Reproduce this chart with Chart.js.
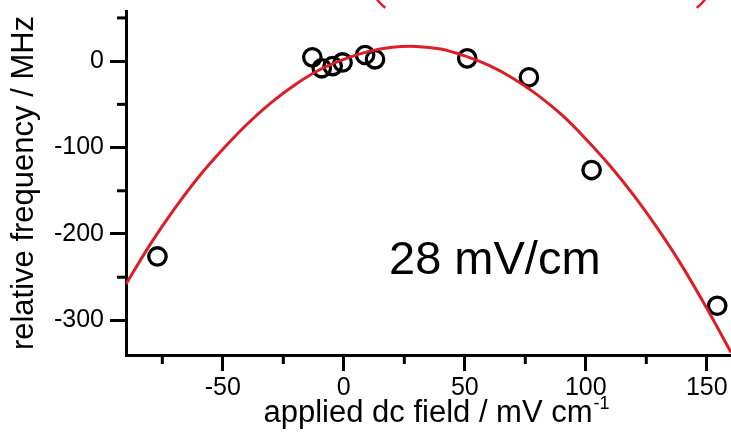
<!DOCTYPE html>
<html>
<head>
<meta charset="utf-8">
<script src="https://cdn.jsdelivr.net/npm/chart.js@4.4.1/dist/chart.umd.min.js"></script>
<style>
  html, body { margin: 0; padding: 0; background: #fff; }
  #wrap { width: 731px; height: 433px; }
</style>
</head>
<body>
<div id="wrap"><canvas id="c"></canvas></div>
<script>
// measured points (applied dc field, relative frequency)
const fieldX = [-77, -13, -9.1, -4.6, -0.5, 8.8, 12.9, 51, 76.5, 102.4, 154.3];
const freqY = [-226, 4.4, -8.3, -5.7, -1.5, 7.1, 2.1, 3.2, -18.7, -126, -283];

// red fit curve
const fitX = [-90, -80, -70, -60, -50, -40, -30, -20, -10, 0, 10, 20, 30, 40, 50, 60, 70, 80, 90, 100, 110, 120, 130, 140, 150, 160];
const fitY = [-258, -212, -171, -134, -102, -73, -48, -27, -10, 2, 11, 16, 17, 14, 6, -5, -20, -39, -62, -90, -121, -156, -195, -238, -286, -337];

const xMajor = [-50, 0, 50, 100, 150];
const xMinor = [-75, -25, 25, 75, 125];
const yMajor = [-300, -200, -100, 0];
const yMinor = [-250, -150, -50, 50];

const RED = 'rgb(218,31,38)';
const FONT = "'Liberation Sans', Arial, sans-serif";

const extras = {
  id: 'extras',
  afterDraw(chart) {
    const { ctx, scales: { x, y } } = chart;
    ctx.save();
    // minor ticks
    ctx.strokeStyle = '#000';
    ctx.lineWidth = 3;
    xMinor.forEach(v => {
      const px = x.getPixelForValue(v);
      ctx.beginPath(); ctx.moveTo(px, x.top); ctx.lineTo(px, x.top + 9); ctx.stroke();
    });
    yMinor.forEach(v => {
      const py = y.getPixelForValue(v);
      ctx.beginPath(); ctx.moveTo(y.right, py); ctx.lineTo(y.right - 9, py); ctx.stroke();
    });

    // annotation
    ctx.fillStyle = '#000';
    ctx.textBaseline = 'alphabetic';
    ctx.textAlign = 'left';
    ctx.font = '47px ' + FONT;
    ctx.fillText('28 mV/cm', 389, 274);

    // x title with superscript
    const main = 'applied dc field / mV cm';
    const sup = '-1';
    ctx.font = '31px ' + FONT;
    const wMain = ctx.measureText(main).width;
    ctx.font = '18px ' + FONT;
    const wSup = ctx.measureText(sup).width;
    const x0 = 436 - (wMain + wSup) / 2;
    ctx.font = '31px ' + FONT;
    ctx.fillText(main, x0, 422);
    ctx.font = '18px ' + FONT;
    ctx.fillText(sup, x0 + wMain + 1, 409);

    // y title
    ctx.save();
    ctx.translate(33, 183);
    ctx.rotate(-Math.PI / 2);
    ctx.textAlign = 'center';
    ctx.font = '31px ' + FONT;
    ctx.fillText('relative frequency / MHz', 0, 0);
    ctx.restore();

    // red outline fragments at the top edge
    ctx.strokeStyle = RED;
    ctx.lineWidth = 2.5;
    ctx.beginPath();
    ctx.arc(410, -25, 41, 127 * Math.PI / 180, 165 * Math.PI / 180);
    ctx.stroke();
    ctx.beginPath();
    ctx.arc(672, -25, 41, 15 * Math.PI / 180, 53 * Math.PI / 180);
    ctx.stroke();
    ctx.restore();
  }
};

new Chart(document.getElementById('c'), {
  type: 'scatter',
  data: {
    datasets: [
      {
        label: 'fit',
        data: fitX.map((v, i) => ({ x: v, y: fitY[i] })),
        showLine: true,
        borderColor: RED,
        borderWidth: 3,
        pointRadius: 0,
        tension: 0.3,
        order: 0
      },
      {
        label: 'data',
        data: fieldX.map((v, i) => ({ x: v, y: freqY[i] })),
        pointStyle: 'circle',
        pointRadius: 8.7,
        pointBorderWidth: 3.3,
        pointBorderColor: '#000',
        pointBackgroundColor: 'rgba(0,0,0,0)',
        order: 1
      }
    ]
  },
  options: {
    responsive: true,
    maintainAspectRatio: false,
    animation: false,
    layout: { autoPadding: false, padding: { top: 11, right: 0, left: 0, bottom: 0 } },
    plugins: { legend: { display: false }, tooltip: { enabled: false } },
    scales: {
      x: {
        type: 'linear',
        min: -90,
        max: 160,
        afterFit(s) { s.height = 78; s.paddingLeft = 0; s.paddingRight = 0; },
        afterBuildTicks(s) { s.ticks = [...xMajor, ...xMinor].sort((a, b) => a - b).map(v => ({ value: v })); },
        border: { color: '#000', width: 3 },
        grid: {
          drawOnChartArea: false,
          tickLength: 16,
          tickWidth: 3,
          tickColor: c => xMajor.includes(c.tick.value) ? '#000' : 'rgba(0,0,0,0)'
        },
        ticks: {
          autoSkip: false,
          maxRotation: 0,
          color: '#000',
          padding: 2,
          font: { family: FONT, size: 25 },
          callback: v => xMajor.includes(v) ? String(v) : ''
        }
      },
      y: {
        type: 'linear',
        min: -340,
        max: 58,
        afterFit(s) { s.width = 126; s.paddingTop = 0; s.paddingBottom = 0; },
        afterBuildTicks(s) { s.ticks = [...yMajor, ...yMinor].sort((a, b) => a - b).map(v => ({ value: v })); },
        border: { color: '#000', width: 3 },
        grid: {
          drawOnChartArea: false,
          tickLength: 16,
          tickWidth: 3,
          tickColor: c => yMajor.includes(c.tick.value) ? '#000' : 'rgba(0,0,0,0)'
        },
        ticks: {
          autoSkip: false,
          color: '#000',
          padding: 6,
          font: { family: FONT, size: 25 },
          callback: v => yMajor.includes(v) ? String(v) : ''
        }
      }
    }
  },
  plugins: [extras]
});
</script>
</body>
</html>
